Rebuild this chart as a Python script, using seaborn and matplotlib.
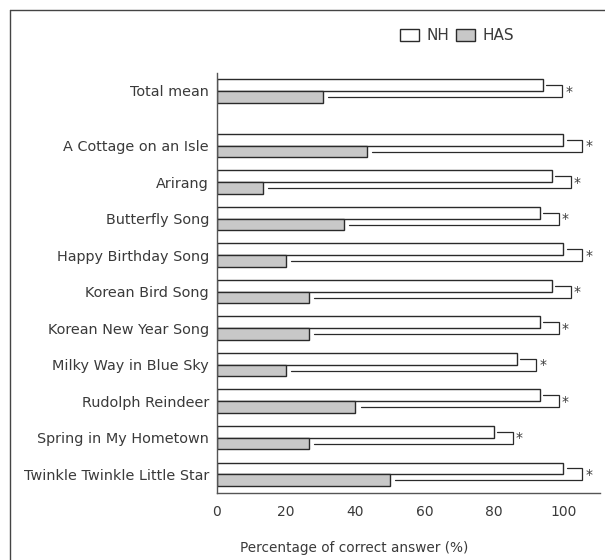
import matplotlib
matplotlib.use("Agg")
import matplotlib.pyplot as plt
from matplotlib.lines import Line2D
import numpy as np
import pandas as pd
import seaborn as sns

# Songs and their correct-answer rates (%)
categories = [
    "Total mean",
    "A Cottage on an Isle",
    "Arirang",
    "Butterfly Song",
    "Happy Birthday Song",
    "Korean Bird Song",
    "Korean New Year Song",
    "Milky Way in Blue Sky",
    "Rudolph Reindeer",
    "Spring in My Hometown",
    "Twinkle Twinkle Little Star",
]
nh_values = [94.2, 100, 96.7, 93.3, 100, 96.7, 93.3, 86.7, 93.3, 80.0, 100]
has_values = [30.6, 43.3, 13.3, 36.7, 20.0, 26.7, 26.7, 20.0, 40.0, 26.7, 50.0]
groups = ["NH", "HAS"]
significant = ["*"] * len(categories)
x_ticks = [0, 20, 40, 60, 80, 100]
x_label = "Percentage of correct answer (%)"

# Row positions: the overall mean sits apart from the individual songs
positions = [0.0] + [1.5 + i for i in range(len(categories) - 1)]

df = pd.DataFrame({
    "pos": positions * 2,
    "value": nh_values + has_values,
    "group": [groups[0]] * len(categories) + [groups[1]] * len(categories),
})

sns.set_theme(style="white")
plt.rcParams["font.family"] = ["DejaVu Sans"]
text_color = "#3a3a3a"
line_color = "#2a2a2a"

fig = plt.figure(figsize=(6.05, 5.6), dpi=100)
ax = fig.add_axes([0.358, 0.120, 0.634, 0.7496])

sns.barplot(
    data=df, x="value", y="pos", hue="group", orient="h",
    native_scale=True, hue_order=groups,
    palette={"NH": "white", "HAS": "#c8c8c8"},
    edgecolor=line_color, linewidth=1.0, width=0.64,
    errorbar=None, ax=ax,
)

# Significance brackets joining each pair of bars
half = 0.16
for p, nh, has, mark in zip(positions, nh_values, has_values, significant):
    bx = nh + 5.4
    y_top = p - half
    y_bot = p + half
    ax.plot([nh + 0.9, bx, bx, has + 1.5], [y_top, y_top, y_bot, y_bot],
            color=line_color, lw=0.9, solid_joinstyle="miter")
    ax.text(bx + 0.9, p + 0.02, mark, ha="left", va="center",
            fontsize=10, color=text_color)

ax.set_xlim(0, 110.6)
ax.set_ylim(11.01, -0.49)
ax.set_xticks(x_ticks)
ax.set_xticklabels([str(t) for t in x_ticks], fontsize=10, color=text_color)
ax.set_yticks(positions)
ax.set_yticklabels(categories, fontsize=10.4, color=text_color)
ax.set_xlabel(x_label, fontsize=9.8, color=text_color)
ax.xaxis.set_label_coords(0.36, -0.116)
ax.set_ylabel("")

for side in ["top", "right"]:
    ax.spines[side].set_visible(False)
for side in ["left", "bottom"]:
    ax.spines[side].set_color("#555555")
    ax.spines[side].set_linewidth(1.0)
ax.tick_params(axis="x", direction="out", length=5, width=1.0, color="#555555", pad=4)
ax.tick_params(axis="y", length=0, pad=5.5)

# Legend in the top right
handles, labels = ax.get_legend_handles_labels()
ax.legend(handles, labels, ncol=2, frameon=False, loc="center right",
          bbox_to_anchor=(0.862, 0.936), bbox_transform=fig.transFigure,
          fontsize=11, handlelength=1.25, handleheight=0.78, handletextpad=0.5,
          columnspacing=0.4, labelcolor=text_color, borderpad=0.0)

# Outer frame (left and top edges)
fx = 10 / 605
fy = 1 - 10 / 560
fig.add_artist(Line2D([fx, fx], [0, fy], transform=fig.transFigure, color="#444444", lw=1.0))
fig.add_artist(Line2D([fx, 1], [fy, fy], transform=fig.transFigure, color="#444444", lw=1.0))

fig.savefig("out.png", dpi=100)
